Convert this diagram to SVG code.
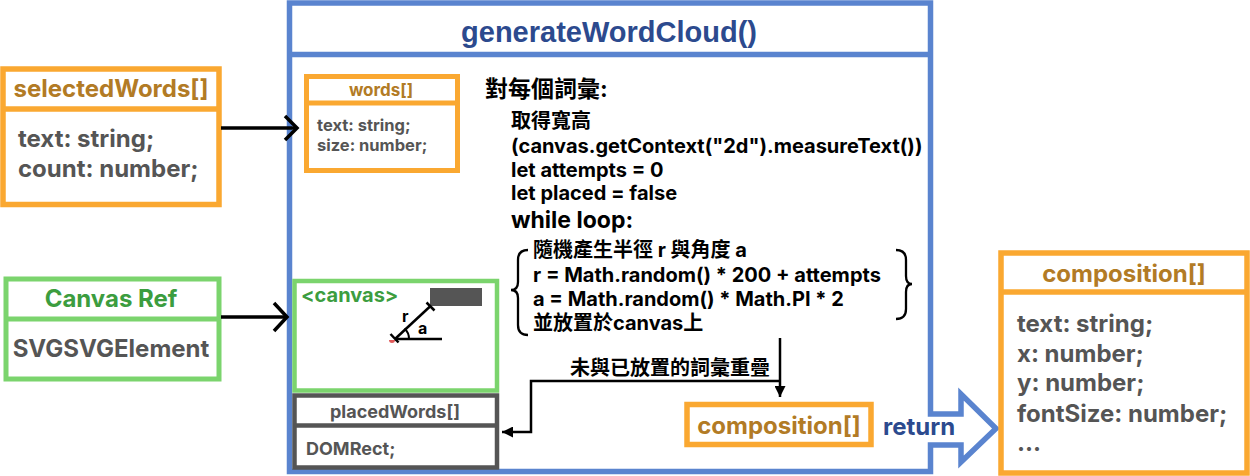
<svg xmlns="http://www.w3.org/2000/svg" width="1250" height="476" viewBox="0 0 1250 476">
<style>
text{font-family:Inter,"Noto Sans CJK TC",sans-serif;font-weight:700}
.or{stroke:#faa831;stroke-width:5.5;fill:#fff}
.gr{stroke:#7bd46d;stroke-width:5;fill:#fff}
.dg{stroke:#555;stroke-width:4.5;fill:#fff}
.gold{fill:#b27b25}
.green{fill:#3c9d3f}
.grey{fill:#555}
.blk{fill:#000}
.blue{fill:#2c4a8e}
.ln{stroke:#000;stroke-width:2.5;fill:none}
.arr{stroke:#000;stroke-width:3.5;fill:none}
</style>
<defs>
<marker id="tri" viewBox="0 0 10 10" refX="10" refY="5" markerWidth="4.4" markerHeight="4.4" markerUnits="strokeWidth" orient="auto">
<path d="M0,0 L10,5 L0,10 Z" fill="#000"/>
</marker>
</defs>

<g id="generateWordCloud">
<path d="M289.5,3 H930.5 V414 H961 V394 L996,428.5 L961,462 V445 H930.5 V471.5 H289.5 Z" fill="#fff" stroke="#5a84cf" stroke-width="5.5"/>
<line x1="289.5" y1="54.5" x2="930.5" y2="54.5" stroke="#5a84cf" stroke-width="5.5"/>
<text x="609" y="42" text-anchor="middle" style="font-family:'Liberation Sans',Arial,sans-serif;font-size:29px" class="blue">generateWordCloud()</text>
<text x="883" y="435" style="font-size:24px" class="blue">return</text>
</g>

<g id="selectedWords">
<rect x="3" y="69" width="216" height="135.5" class="or"/>
<line x1="3" y1="109" x2="219" y2="109" stroke="#faa831" stroke-width="5.5"/>
<text x="111" y="97" text-anchor="middle" class="gold" style="font-size:24px">selectedWords[]</text>
<text x="18" y="147" class="grey" style="font-size:24px">text: string;</text>
<text x="18" y="177" class="grey" style="font-size:24px">count: number;</text>
</g>

<g id="canvasRef">
<rect x="6" y="279" width="213" height="100" class="gr"/>
<line x1="6" y1="319" x2="219" y2="319" stroke="#7bd46d" stroke-width="5"/>
<text x="111" y="307" text-anchor="middle" class="green" style="font-size:24px">Canvas Ref</text>
<text x="111" y="357" text-anchor="middle" class="grey" style="font-size:24px">SVGSVGElement</text>
</g>

<g id="words">
<rect x="306.5" y="76.5" width="151" height="94" class="or" style="stroke-width:5"/>
<line x1="306.5" y1="103" x2="457.5" y2="103" stroke="#faa831" stroke-width="5"/>
<text x="381" y="96" text-anchor="middle" class="gold" style="font-size:17px">words[]</text>
<text x="317" y="130.5" class="grey" style="font-size:16.5px">text: string;</text>
<text x="317" y="150.5" class="grey" style="font-size:16.5px">size: number;</text>
</g>

<g id="loop">
<text x="485" y="97" class="blk" style="font-size:23px">對每個詞彙:</text>
<text x="511" y="128" class="blk" style="font-size:20px">取得寬高</text>
<text x="511" y="153" class="blk" style="font-size:20px">(canvas.getContext("2d").measureText())</text>
<text x="511" y="177" class="blk" style="font-size:20px">let attempts = 0</text>
<text x="511" y="200" class="blk" style="font-size:20px">let placed = false</text>
<text x="511" y="228" class="blk" style="font-size:23px">while loop:</text>
<text x="533" y="257" class="blk" style="font-size:20px">隨機產生半徑 r 與角度 a</text>
<text x="533" y="282" class="blk" style="font-size:20px">r = Math.random() * 200 + attempts</text>
<text x="533" y="306" class="blk" style="font-size:20px">a = Math.random() * Math.PI * 2</text>
<text x="533" y="330" class="blk" style="font-size:20px">並放置於canvas上</text>
<path d="M528,250 Q518,250 518,260 V282 Q518,290 511,290 Q518,290 518,298 V325 Q518,335 528,335" class="ln" style="stroke-width:2.3"/>
<path d="M896,250 Q906,250 906,260 V276 Q906,284 912,284 Q906,284 906,292 V309 Q906,319 896,319" class="ln" style="stroke-width:2.3"/>
</g>

<g id="canvas">
<rect x="294.5" y="281" width="202.5" height="109.5" class="gr" style="stroke-width:4.5"/>
<text x="301" y="302" class="green" style="font-size:20px">&lt;canvas&gt;</text>
<rect x="430" y="288" width="52" height="18" fill="#555"/>
<path d="M392,340 m-3,0 a3,3 0 0 0 6,0 z" fill="#e05a5a"/>
<line x1="395" y1="339" x2="430" y2="306.5" class="ln"/>
<line x1="426.5" y1="302.5" x2="434.5" y2="310.5" class="ln"/>
<line x1="390.5" y1="334" x2="398.5" y2="342.5" class="ln"/>
<line x1="395" y1="339" x2="442" y2="339" class="ln"/>
<path d="M409,339 A14,14 0 0 0 404.5,328.5" class="ln" style="stroke-width:2"/>
<text x="402" y="322" class="blk" style="font-size:16px">r</text>
<text x="418" y="334" class="blk" style="font-size:16px">a</text>
</g>

<g id="placedWords">
<rect x="294.5" y="395.5" width="202.5" height="72" class="dg"/>
<line x1="294.5" y1="425.5" x2="497" y2="425.5" stroke="#555" stroke-width="4.5"/>
<text x="395" y="418" text-anchor="middle" class="grey" style="font-size:18px">placedWords[]</text>
<text x="306" y="455" class="grey" style="font-size:18px">DOMRect;</text>
</g>

<g id="compositionInner">
<rect x="687" y="404.5" width="184" height="40" class="or"/>
<text x="779" y="434" text-anchor="middle" class="gold" style="font-size:24px">composition[]</text>
</g>

<g id="composition">
<rect x="1001" y="253" width="246" height="220" class="or"/>
<line x1="1001" y1="292" x2="1247" y2="292" stroke="#faa831" stroke-width="5.5"/>
<text x="1124" y="282" text-anchor="middle" class="gold" style="font-size:24px">composition[]</text>
<text x="1017" y="332" class="grey" style="font-size:24px">text: string;</text>
<text x="1017" y="362" class="grey" style="font-size:24px">x: number;</text>
<text x="1017" y="391" class="grey" style="font-size:24px">y: number;</text>
<text x="1017" y="422" class="grey" style="font-size:24px">fontSize: number;</text>
<text x="1017" y="451" class="grey" style="font-size:24px">...</text>
</g>

<g id="connectors">
<line x1="221" y1="128" x2="297" y2="128" class="arr"/>
<polyline points="285,116 297,128 285,140" class="arr"/>
<line x1="221" y1="317" x2="287" y2="317" class="arr"/>
<polyline points="274,303 287,317 274,331" class="arr"/>
<line x1="780" y1="338" x2="780" y2="397" class="ln" marker-end="url(#tri)"/>
<polyline points="780,381 531,381 531,432 502,432" class="ln" marker-end="url(#tri)"/>
<text x="770" y="375" text-anchor="end" class="blk" style="font-size:20px">未與已放置的詞彙重疊</text>
</g>
</svg>
